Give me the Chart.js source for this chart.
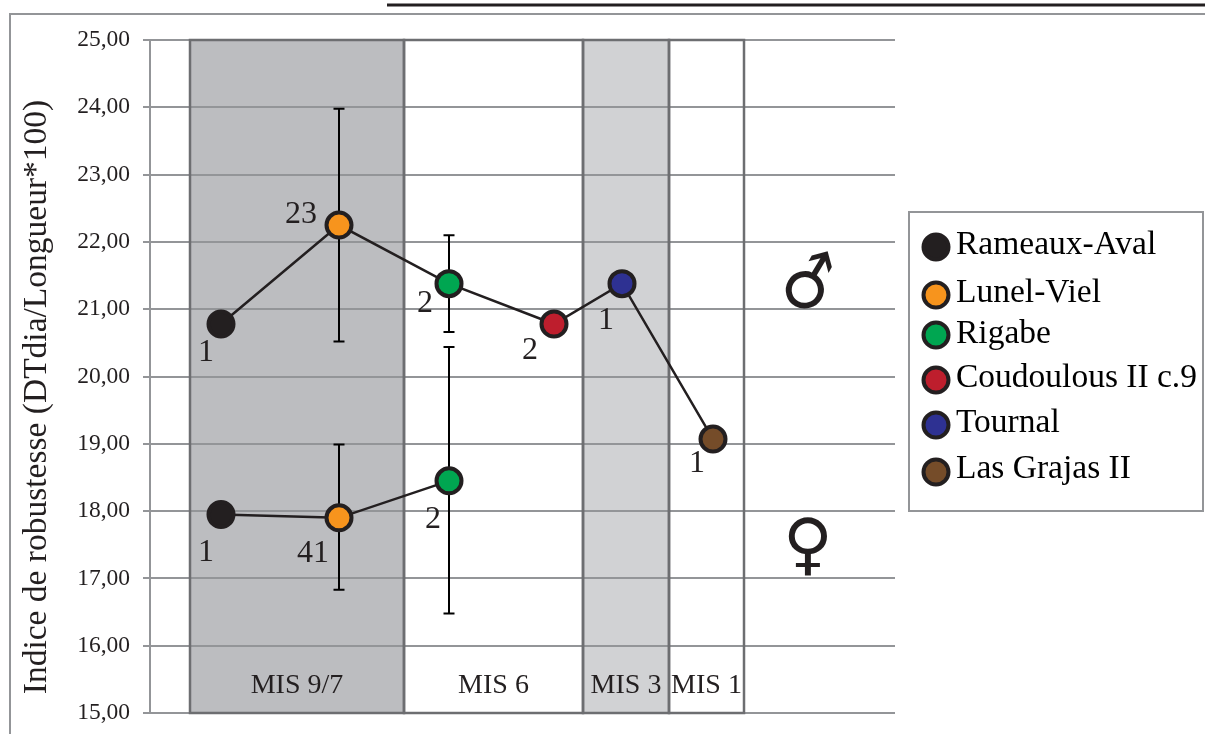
<!DOCTYPE html>
<html>
<head>
<meta charset="utf-8">
<style>
  html, body { margin: 0; padding: 0; background: #fff; }
  #wrap { width: 1205px; height: 734px; }
</style>
<script src="https://cdn.jsdelivr.net/npm/chart.js@4"></script>
</head>
<body>
<div id="wrap"><canvas id="chart" width="1205" height="734"></canvas></div>
<script>
// --- data ---
const siteNames = ['Rameaux-Aval', 'Lunel-Viel', 'Rigabe', 'Coudoulous II c.9', 'Tournal', 'Las Grajas II'];
const siteColors = ['#231f20', '#f7941d', '#00a651', '#be1e2d', '#2e3192', '#754c29'];
const sitePositions = [71, 189, 299, 404, 472, 563];

const maleValues = [20.78, 22.25, 21.38, 20.78, 21.38, 19.07];
const maleLow = [null, 20.52, 20.66, null, null, null];
const maleHigh = [null, 23.98, 22.10, null, null, null];
const maleCounts = ['1', '23', '2', '2', '1', '1'];

const femaleValues = [17.95, 17.90, 18.45];
const femaleLow = [null, 16.83, 16.48];
const femaleHigh = [null, 18.99, 20.44];
const femaleCounts = ['1', '41', '2'];

const misNames = ['MIS 9/7', 'MIS 6', 'MIS 3', 'MIS 1'];
const misStarts = [40, 254, 433, 519];
const misEnds = [254, 433, 519, 594];
const misFills = ['#bcbdc0', '#ffffff', '#d1d2d4', '#ffffff'];

const yTicks = [15, 16, 17, 18, 19, 20, 21, 22, 23, 24, 25];
const yTitle = 'Indice de robustesse (DTdia/Longueur*100)';

// --- styles ---
const serif = '"Liberation Serif", "Times New Roman", serif';
const inkColor = '#231f20';
const gridColor = '#939598';
const bandLine = '#6d6e71';

// pixel offsets of the count labels from their point
const maleCountOffsets = [[-15, 29], [-38, -10], [-24, 20], [-24, 27], [-16, 37], [-16, 25]];
const femaleCountOffsets = [[-15, 38], [-26, 36], [-16, 39]];

const legendTextY = [245, 293, 334, 378, 423, 469];
const legendDotY = [247, 295, 335, 380, 425, 472];

function drawCounts(ctx, x, y, values, positions, counts, offsets) {
    counts.forEach((c, i) => {
        ctx.fillText(c, x.getPixelForValue(positions[i]) + offsets[i][0], y.getPixelForValue(values[i]) + offsets[i][1]);
    });
}

function drawErrors(ctx, x, y, positions, lows, highs) {
    positions.forEach((p, i) => {
        if (lows[i] === null || lows[i] === undefined) return;
        const px = x.getPixelForValue(p);
        const top = y.getPixelForValue(highs[i]);
        const bottom = y.getPixelForValue(lows[i]);
        ctx.beginPath();
        ctx.moveTo(px, top);
        ctx.lineTo(px, bottom);
        ctx.moveTo(px - 5.5, top);
        ctx.lineTo(px + 5.5, top);
        ctx.moveTo(px - 5.5, bottom);
        ctx.lineTo(px + 5.5, bottom);
        ctx.stroke();
    });
}

// bands go under the grid lines, their outlines and texts on top of it
const bandsPlugin = {
    id: 'bands',
    beforeDraw(chart) {
        const { ctx, scales: { x }, chartArea: a } = chart;
        ctx.save();
        ctx.fillStyle = '#fff';
        ctx.fillRect(0, 0, chart.width, chart.height);
        misNames.forEach((name, i) => {
            const left = x.getPixelForValue(misStarts[i]);
            const right = x.getPixelForValue(misEnds[i]);
            ctx.fillStyle = misFills[i];
            ctx.fillRect(left, a.top, right - left, a.bottom - a.top);
        });
        // page frame and rule
        ctx.strokeStyle = gridColor;
        ctx.lineWidth = 2;
        ctx.beginPath();
        ctx.moveTo(10, 734);
        ctx.lineTo(10, 14);
        ctx.lineTo(1205, 14);
        ctx.stroke();
        ctx.strokeStyle = inkColor;
        ctx.lineWidth = 3;
        ctx.beginPath();
        ctx.moveTo(387, 5);
        ctx.lineTo(1205, 5);
        ctx.stroke();
        ctx.restore();
    },
    beforeDatasetsDraw(chart) {
        const { ctx, scales: { x, y }, chartArea: a } = chart;
        ctx.save();
        ctx.strokeStyle = bandLine;
        ctx.lineWidth = 2.5;
        misNames.forEach((name, i) => {
            const left = x.getPixelForValue(misStarts[i]);
            const right = x.getPixelForValue(misEnds[i]);
            ctx.strokeRect(left, a.top, right - left, a.bottom - a.top);
        });
        ctx.fillStyle = inkColor;
        ctx.font = '28px ' + serif;
        ctx.textAlign = 'center';
        ctx.textBaseline = 'middle';
        misNames.forEach((name, i) => {
            const mid = (x.getPixelForValue(misStarts[i]) + x.getPixelForValue(misEnds[i])) / 2;
            ctx.fillText(name, mid, 686);
        });
        ctx.strokeStyle = '#000';
        ctx.lineWidth = 2;
        drawErrors(ctx, x, y, sitePositions, maleLow, maleHigh);
        drawErrors(ctx, x, y, sitePositions, femaleLow, femaleHigh);
        ctx.restore();
    },
    afterDraw(chart) {
        const { ctx, scales: { x, y } } = chart;
        ctx.save();
        ctx.fillStyle = inkColor;
        ctx.font = '32px ' + serif;
        ctx.textAlign = 'center';
        ctx.textBaseline = 'middle';
        drawCounts(ctx, x, y, maleValues, sitePositions, maleCounts, maleCountOffsets);
        drawCounts(ctx, x, y, femaleValues, sitePositions, femaleCounts, femaleCountOffsets);

        // y title
        ctx.save();
        ctx.translate(37, 397);
        ctx.rotate(-Math.PI / 2);
        ctx.font = '33.5px ' + serif;
        ctx.fillText(yTitle, 0, 0);
        ctx.restore();

        // sex symbols, male arrow is steeper in the reference so the glyph is turned
        ctx.font = 'bold 68px "DejaVu Sans"';
        ctx.save();
        ctx.translate(804, 289);
        ctx.rotate(-15 * Math.PI / 180);
        ctx.fillText('\u2642', 6.6, 1.1);
        ctx.restore();
        ctx.fillText('\u2640', 808, 549);

        // legend
        ctx.fillStyle = '#fff';
        ctx.fillRect(909, 212, 294, 299);
        ctx.strokeStyle = gridColor;
        ctx.lineWidth = 2;
        ctx.strokeRect(909, 212, 294, 299);
        siteNames.forEach((name, i) => {
            ctx.beginPath();
            ctx.arc(936, legendDotY[i], 12.5, 0, Math.PI * 2);
            ctx.fillStyle = siteColors[i];
            ctx.fill();
            ctx.strokeStyle = inkColor;
            ctx.lineWidth = 4;
            ctx.stroke();
            ctx.fillStyle = '#000';
            ctx.font = '33.5px ' + serif;
            ctx.textAlign = 'left';
            ctx.fillText(name, 956, legendTextY[i]);
        });
        ctx.restore();
    }
};

function sexDataset(label, values) {
    return {
        label: label,
        data: values.map((v, i) => ({ x: sitePositions[i], y: v })),
        showLine: true,
        borderColor: inkColor,
        borderWidth: 2.5,
        pointRadius: 12.5,
        pointHoverRadius: 12.5,
        pointBorderWidth: 4,
        pointBorderColor: inkColor,
        pointBackgroundColor: siteColors
    };
}

new Chart(document.getElementById('chart'), {
    type: 'scatter',
    data: {
        datasets: [sexDataset('Mâles', maleValues), sexDataset('Femelles', femaleValues)]
    },
    options: {
        responsive: false,
        animation: false,
        layout: { padding: { left: 0, top: 40, right: 310, bottom: 21 } },
        plugins: { legend: { display: false }, tooltip: { enabled: false } },
        scales: {
            x: {
                type: 'linear',
                min: 0,
                max: 745,
                display: true,
                grid: { display: false, drawTicks: false },
                ticks: { display: false },
                border: { display: false },
                afterFit(scale) { scale.height = 0; }
            },
            y: {
                min: 15,
                max: 25,
                afterFit(scale) {
                    scale.width = 150;
                    // tick padding would otherwise push the plot bottom up
                    scale.paddingTop = 0;
                    scale.paddingBottom = 0;
                },
                afterBuildTicks(scale) { scale.ticks = yTicks.map(v => ({ value: v })); },
                grid: { color: gridColor, lineWidth: 2, tickLength: 7 },
                border: { color: gridColor, width: 2 },
                ticks: {
                    color: inkColor,
                    padding: 13,
                    font: { family: serif, size: 23.5 },
                    callback: v => v.toFixed(2).replace('.', ',')
                }
            }
        }
    },
    plugins: [bandsPlugin]
});
</script>
</body>
</html>
